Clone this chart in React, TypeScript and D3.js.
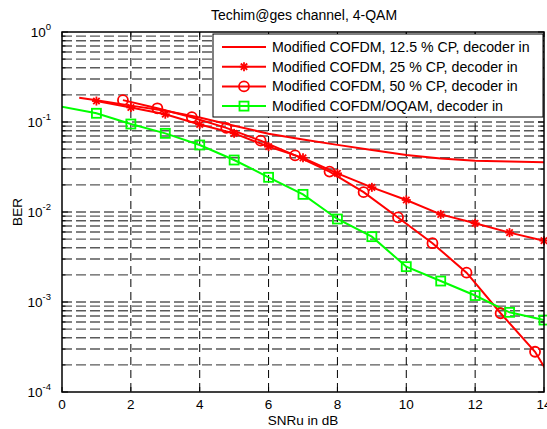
import React from "react";
import * as d3 from "d3";

const X_TICKS = [0, 2, 4, 6, 8, 10, 12, 14];
const Y_DECADES = [0, -1, -2, -3, -4];

const CP125_X = [0.5, 1, 2, 3, 4, 5, 6, 7, 8, 9, 10, 11, 12, 13, 14];
const CP125_Y = [0.186, 0.174, 0.152, 0.133, 0.112, 0.0909, 0.074, 0.064, 0.0557, 0.0489, 0.043, 0.0394, 0.0372, 0.0363, 0.0357];

const CP25_X = [1, 2, 3, 4, 5, 6, 7, 8, 9, 10, 11, 12, 13, 14];
const CP25_Y = [0.171, 0.145, 0.122, 0.094, 0.0748, 0.0532, 0.0400, 0.0269, 0.0188, 0.0136, 0.0094, 0.0075, 0.0059, 0.0048];

const CP50_X = [1.77, 2.77, 3.77, 4.77, 5.77, 6.77, 7.77, 8.76, 9.76, 10.76, 11.75, 12.74, 13.74, 14.74];
const CP50_Y = [0.175, 0.142, 0.113, 0.086, 0.062, 0.0425, 0.0281, 0.0166, 0.0087, 0.0045, 0.00212, 0.00075, 0.00028, 0.000065];

const OQAM_X = [-1, 1, 2, 3, 4, 5, 6, 7, 8, 9, 10, 11, 12, 13, 14];
const OQAM_Y = [0.175, 0.125, 0.095, 0.0748, 0.0555, 0.0378, 0.0243, 0.0157, 0.00836, 0.00532, 0.00247, 0.00171, 0.00118, 0.000768, 0.00063];

const LEGEND = [
  "Modified COFDM, 12.5 % CP, decoder in",
  "Modified COFDM, 25 % CP, decoder in",
  "Modified COFDM, 50 % CP, decoder in",
  "Modified COFDM/OQAM, decoder in",
];

const W = 547, H = 429;
const L = 62, R = 544, T = 32, B = 392;
const FONT = "Liberation Sans, Arial, sans-serif";
const RED = "#ff0000", GREEN = "#00ff00";

const x = d3.scaleLinear().domain([0, 14]).range([L, R]);
const y = d3.scaleLog().domain([1e-4, 1]).range([B, T]);

function Star({ cx, cy }: { cx: number; cy: number }) {
  const s = 4.5, d = 3.2;
  return (
    <g stroke={RED} strokeWidth={1.8}>
      <line x1={cx} y1={cy - s} x2={cx} y2={cy + s} />
      <line x1={cx - s} y1={cy} x2={cx + s} y2={cy} />
      <line x1={cx - d} y1={cy - d} x2={cx + d} y2={cy + d} />
      <line x1={cx - d} y1={cy + d} x2={cx + d} y2={cy - d} />
    </g>
  );
}
function Circ({ cx, cy }: { cx: number; cy: number }) {
  return <circle cx={cx} cy={cy} r={5} fill="none" stroke={RED} strokeWidth={1.8} />;
}
function Sq({ cx, cy }: { cx: number; cy: number }) {
  return <rect x={cx - 4.5} y={cy - 4.5} width={9} height={9} fill="none" stroke={GREEN} strokeWidth={1.8} />;
}

export default function App() {
  const line = d3.line<[number, number]>().x((d) => x(d[0])).y((d) => y(d[1]));
  const zip = (xs: number[], ys: number[]) => xs.map((v, i) => [v, ys[i]] as [number, number]);
  const s125 = zip(CP125_X, CP125_Y);
  const s25 = zip(CP25_X, CP25_Y);
  const s50 = zip(CP50_X, CP50_Y);
  const soq = zip(OQAM_X, OQAM_Y);

  const minor: number[] = [];
  for (let e = -4; e < 0; e++) for (let m = 2; m <= 9; m++) minor.push(m * Math.pow(10, e));
  const major = Y_DECADES.map((e) => Math.pow(10, e));
  const inside = (px: number) => px >= L - 0.1 && px <= R + 0.1;

  return (
    <svg width={W} height={H} style={{ position: "absolute", left: 0, top: 0, background: "#fff" }} fontFamily={FONT}>
      <defs>
        <clipPath id="plot">
          <rect x={L} y={T} width={R - L} height={B - T} />
        </clipPath>
      </defs>
      <rect x={0} y={0} width={W} height={H} fill="#fff" />
      {[...minor, ...major.slice(1, 4)].map((v, i) => (
        <line key={"h" + i} x1={L} x2={R} y1={y(v)} y2={y(v)} stroke="#5a5a5a" strokeWidth={1.4} strokeDasharray="10,4" />
      ))}
      {X_TICKS.slice(1, -1).map((v) => (
        <line key={"v" + v} x1={x(v)} x2={x(v)} y1={T} y2={B} stroke="#000" strokeWidth={1} strokeDasharray="8,5" />
      ))}
      {minor.map((v, i) => (
        <g key={"mt" + i} stroke="#000" strokeWidth={1}>
          <line x1={L} x2={L + 3.5} y1={y(v)} y2={y(v)} />
          <line x1={R} x2={R - 3.5} y1={y(v)} y2={y(v)} />
        </g>
      ))}
      {major.map((v, i) => (
        <g key={"Mt" + i} stroke="#000" strokeWidth={1}>
          <line x1={L} x2={L + 6} y1={y(v)} y2={y(v)} />
          <line x1={R} x2={R - 6} y1={y(v)} y2={y(v)} />
        </g>
      ))}
      {X_TICKS.map((v) => (
        <g key={"xt" + v} stroke="#000" strokeWidth={1}>
          <line x1={x(v)} x2={x(v)} y1={B} y2={B - 5} />
          <line x1={x(v)} x2={x(v)} y1={T} y2={T + 5} />
        </g>
      ))}
      <g clipPath="url(#plot)" fill="none">
        <path d={line(s125) || ""} stroke={RED} strokeWidth={2} />
        <path d={line(s25) || ""} stroke={RED} strokeWidth={2} />
        <path d={line(s50) || ""} stroke={RED} strokeWidth={2} />
        <path d={line(soq) || ""} stroke={GREEN} strokeWidth={2} />
      </g>
      {s25.filter((d) => inside(x(d[0]))).map((d, i) => <Star key={"s" + i} cx={x(d[0])} cy={y(d[1])} />)}
      {s50.filter((d) => inside(x(d[0]))).map((d, i) => <Circ key={"c" + i} cx={x(d[0])} cy={y(d[1])} />)}
      {soq.filter((d) => inside(x(d[0]))).map((d, i) => <Sq key={"q" + i} cx={x(d[0])} cy={y(d[1])} />)}
      <rect x={L} y={T} width={R - L} height={B - T} fill="none" stroke="#000" strokeWidth={1.5} />
      {X_TICKS.map((v) => (
        <text key={"xl" + v} x={x(v)} y={B + 17} fontSize={13.5} textAnchor="middle">{v}</text>
      ))}
      {Y_DECADES.map((e) => (
        <text key={"yl" + e} x={L - 11} y={y(Math.pow(10, e)) + 5} fontSize={13.5} textAnchor="end">
          10
          <tspan fontSize={9.5} dy={-7}>{e}</tspan>
        </text>
      ))}
      <text x={(L + R) / 2 + 1} y={20} fontSize={14} textAnchor="middle">Techim@ges channel, 4-QAM</text>
      <text x={(L + R) / 2} y={B + 33} fontSize={13.5} textAnchor="middle">SNRu in dB</text>
      <text transform={`translate(22,${(T + B) / 2}) rotate(-90)`} fontSize={13.5} textAnchor="middle">BER</text>
      <rect x={213} y={34} width={330} height={83} fill="#fff" stroke="#000" strokeWidth={1} />
      {LEGEND.map((t, i) => {
        const ly = 47 + i * 19.7;
        const col = i === 3 ? GREEN : RED;
        return (
          <g key={"lg" + i}>
            <line x1={222} x2={266} y1={ly} y2={ly} stroke={col} strokeWidth={2} />
            {i === 1 && <Star cx={244} cy={ly} />}
            {i === 2 && <Circ cx={244} cy={ly} />}
            {i === 3 && <Sq cx={244} cy={ly} />}
            <text x={272} y={ly + 5} fontSize={14.2}>{t}</text>
          </g>
        );
      })}
    </svg>
  );
}
